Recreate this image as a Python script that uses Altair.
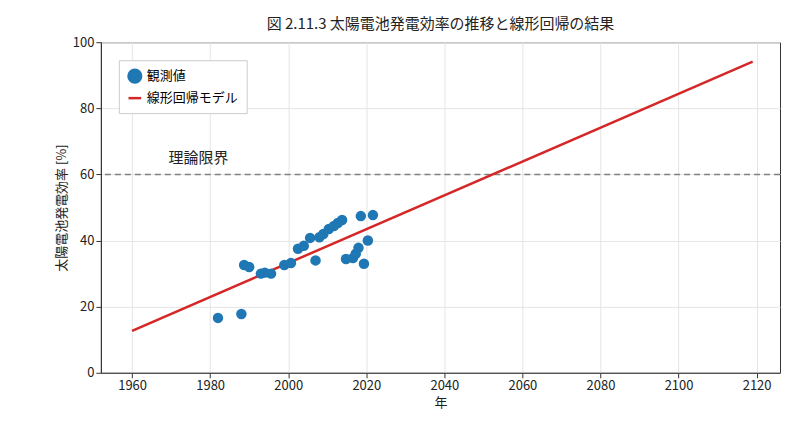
import pandas as pd
import altair as alt

years = [1982, 1988, 1988.7, 1990, 1993, 1994, 1995.6, 1999, 2000.7, 2002.5, 2004, 2005.6, 2007,
         2008, 2009, 2010.4, 2011.7, 2012.7, 2013.8, 2014.8, 2016.6, 2017.3, 2018, 2018.6, 2019.4,
         2020.4, 2021.7]
eff = [16.6, 17.8, 32.6, 32, 30, 30.3, 30, 32.6, 33.2, 37.5, 38.4, 40.8, 34,
       41, 42, 43.5, 44.4, 45.3, 46.2, 34.4, 34.7, 36, 37.8, 47.4, 33,
       40, 47.7]
limit = 60
font = "Noto Sans CJK JP"
kinds = ["観測値", "線形回帰モデル"]

df = pd.DataFrame({"year": years, "eff": eff, "kind": "観測値"})
color = alt.Color("kind:N", title=None,
                  scale=alt.Scale(domain=kinds, range=["#1f77b4", "#d62728"]),
                  legend=alt.Legend(orient="top-left", labelFont=font, labelFontSize=13,
                                    strokeColor="#ccc", fillColor="white", padding=8,
                                    symbolSize=160, symbolStrokeWidth=2.5))
shape = alt.Shape("kind:N", title=None, scale=alt.Scale(domain=kinds, range=["circle", "stroke"]))
X = alt.X("year:Q", title="年", scale=alt.Scale(domain=[1952, 2126], nice=False),
          axis=alt.Axis(values=list(range(1960, 2121, 20)), format="d"))
Y = alt.Y("eff:Q", title="太陽電池発電効率 [%]", scale=alt.Scale(domain=[0, 100]),
          axis=alt.Axis(values=list(range(0, 101, 20))))

base = alt.Chart(df)
pts = base.mark_point(size=110, opacity=1, filled=True).encode(x=X, y=Y, color=color, shape=shape)
reg = base.transform_regression("year", "eff", extent=[1960, 2119]).transform_calculate(
    kind="'線形回帰モデル'").mark_line(strokeWidth=2.5).encode(x=X, y=Y, color=color, shape=shape)
rule = alt.Chart(pd.DataFrame({"y": [limit]})).mark_rule(
    strokeDash=[6, 4], color="gray", strokeWidth=1.5).encode(y="y:Q")
txt = alt.Chart(pd.DataFrame({"x": [1977], "y": [65], "t": ["理論限界"]})).mark_text(
    font=font, fontSize=15, color="#222").encode(x="x:Q", y="y:Q", text="t:N")

chart = alt.layer(rule, reg, pts, txt).properties(
    width=680, height=331,
    title=alt.Title("図 2.11.3 太陽電池発電効率の推移と線形回帰の結果", font=font, fontSize=15,
                    fontWeight="normal", color="#222"),
    padding={"left": 47, "top": 9, "right": 5, "bottom": 5},
).configure_axis(
    labelFont=font, titleFont=font, labelFontSize=13, titleFontSize=13, titleFontWeight="normal",
    gridColor="#e5e5e5", domainColor="#333", tickColor="#333", labelColor="#222", titleColor="#222"
).configure_view(stroke="#333")

chart.save("out.html", embed_options={"renderer": "svg", "actions": False})
